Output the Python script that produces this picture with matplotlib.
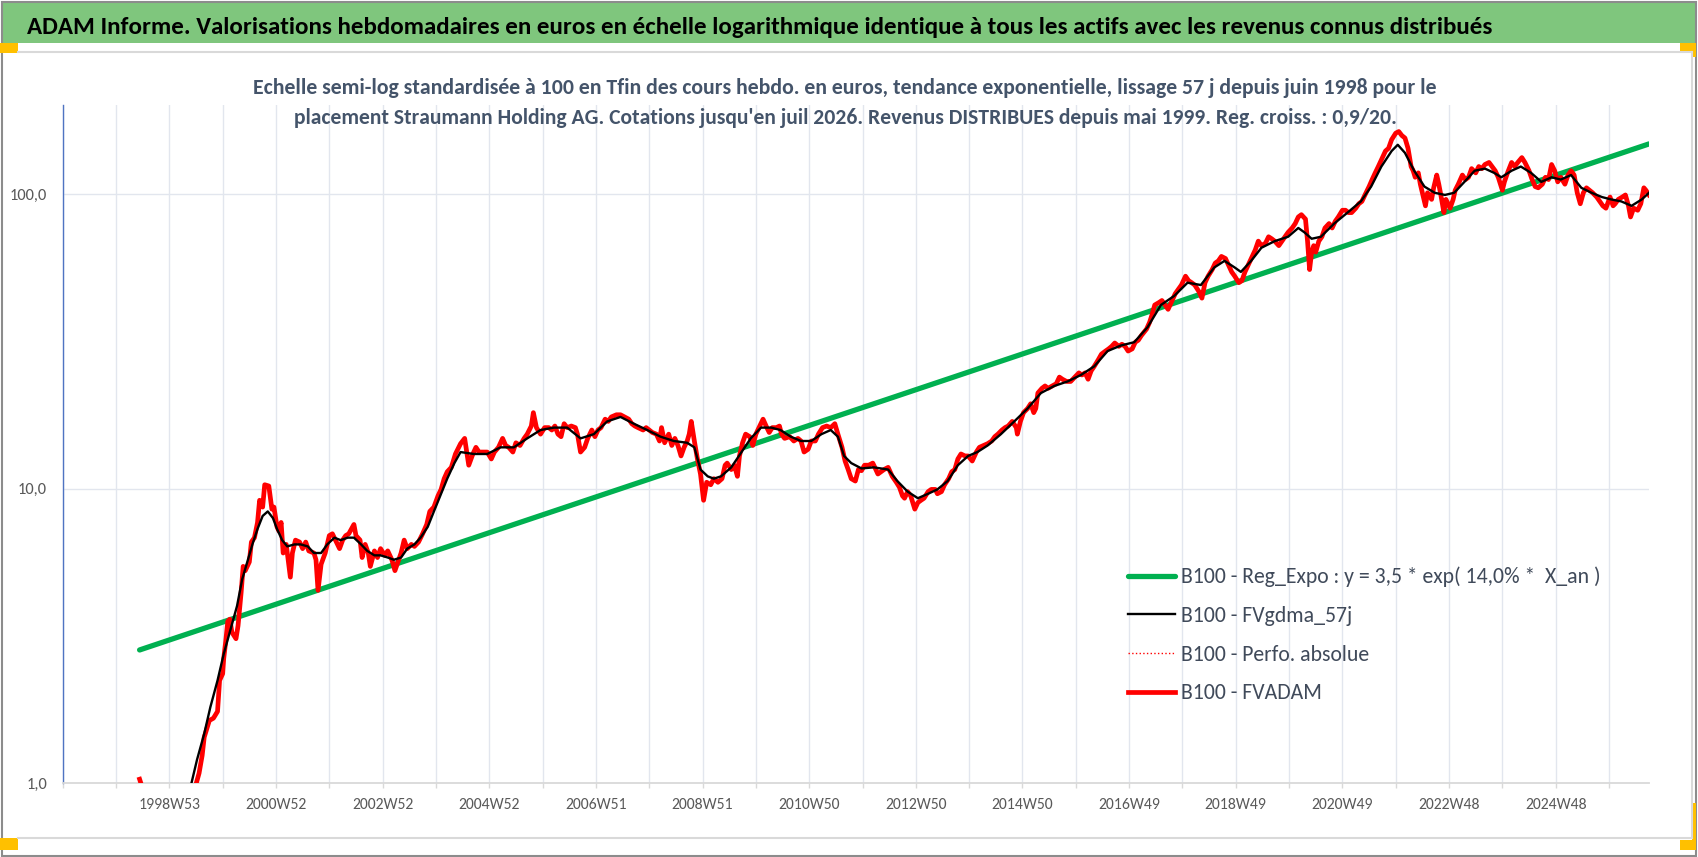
import matplotlib
matplotlib.use("Agg")
import matplotlib.pyplot as plt
from matplotlib.patches import Rectangle
from matplotlib.lines import Line2D
from matplotlib.ticker import NullLocator

# ======= Data (x = week index from the axis origin) =======
green_weeks = [75, 1547]
green_vals = [2.83, 148.0]

fvadam_weeks = [
    75, 85, 100, 115, 125, 130, 133, 136, 138, 143, 147, 151, 153, 156, 157, 159, 161, 163, 165, 169,
    171, 174, 176, 178, 182, 184, 187, 190, 192, 195, 197, 201, 204, 206, 209, 211, 213, 215, 218, 222,
    224, 227, 231, 234, 237, 240, 245, 247, 249, 252, 256, 260, 263, 266, 270, 273, 276, 279, 284, 286,
    290, 292, 295, 298, 300, 304, 307, 310, 314, 317, 321, 324, 327, 330, 333, 336, 340, 343, 347, 351,
    355, 358, 362, 366, 369, 372, 375, 379, 383, 388, 392, 394, 396, 400, 403, 406, 409, 414, 418, 421,
    425, 429, 432, 435, 439, 442, 446, 450, 453, 457, 459, 462, 466, 470, 474, 477, 480, 483, 486, 489,
    492, 496, 500, 502, 505, 509, 512, 516, 519, 522, 525, 529, 532, 535, 540, 544, 548, 552, 555, 558,
    561, 566, 569, 572, 575, 579, 582, 584, 587, 591, 594, 597, 600, 603, 606, 609, 611, 613, 616, 619,
    622, 625, 628, 632, 635, 639, 643, 646, 648, 652, 655, 658, 660, 663, 666, 670, 673, 676, 679, 683,
    686, 689, 692, 696, 699, 701, 704, 709, 713, 717, 720, 723, 727, 730, 734, 737, 741, 745, 749, 753,
    756, 760, 763, 766, 769, 773, 776, 779, 782, 786, 790, 792, 795, 798, 801, 805, 807, 809, 813, 816,
    819, 821, 824, 827, 829, 831, 834, 837, 840, 844, 847, 851, 853, 857, 860, 864, 867, 870, 873, 876,
    880, 883, 887, 891, 894, 898, 902, 906, 909, 912, 916, 919, 922, 926, 930, 931, 934, 937, 941, 944,
    947, 949, 951, 955, 958, 961, 965, 969, 972, 975, 979, 983, 987, 991, 994, 997, 1000, 1003, 1006, 1010,
    1013, 1017, 1020, 1023, 1026, 1030, 1033, 1036, 1039, 1043, 1046, 1049, 1052, 1057, 1060, 1062, 1065, 1069, 1072, 1075,
    1078, 1082, 1085, 1088, 1091, 1095, 1098, 1101, 1104, 1108, 1111, 1114, 1117, 1121, 1124, 1127, 1130, 1134, 1137, 1140,
    1143, 1147, 1150, 1153, 1156, 1160, 1163, 1166, 1169, 1173, 1176, 1179, 1182, 1186, 1189, 1192, 1195, 1199, 1202, 1205,
    1208, 1212, 1214, 1216, 1218, 1220, 1222, 1225, 1228, 1231, 1235, 1238, 1241, 1244, 1248, 1251, 1254, 1257, 1261, 1264,
    1267, 1270, 1274, 1277, 1280, 1283, 1287, 1290, 1293, 1296, 1300, 1303, 1306, 1309, 1312, 1315, 1317, 1319, 1322, 1324,
    1327, 1329, 1331, 1335, 1337, 1340, 1342, 1344, 1347, 1349, 1353, 1356, 1358, 1361, 1365, 1368, 1371, 1374, 1378, 1381,
    1384, 1387, 1391, 1394, 1397, 1400, 1404, 1406, 1409, 1413, 1416, 1419, 1423, 1426, 1430, 1433, 1436, 1439, 1443, 1446,
    1449, 1452, 1455, 1458, 1461, 1465, 1468, 1471, 1474, 1477, 1480, 1483, 1486, 1489, 1492, 1496, 1499, 1502, 1505, 1509,
    1512, 1514, 1517, 1521, 1524, 1527, 1529, 1532, 1536, 1539, 1542, 1544, 1547,
]
fvadam_vals = [
    1.03, 0.80, 0.70, 0.75, 0.90, 0.99, 1.08, 1.24, 1.43, 1.63, 1.66, 1.75, 2.23, 2.35, 2.64, 3.03, 3.54, 3.60, 3.25, 3.09,
    3.42, 4.43, 5.44, 5.26, 5.63, 6.58, 6.81, 7.67, 9.12, 8.65, 10.3, 10.2, 8.51, 8.65, 7.41, 7.16, 7.67, 6.04, 6.46, 5.00,
    6.04, 6.68, 6.58, 6.25, 6.58, 6.14, 6.04, 5.73, 4.51, 5.53, 6.04, 6.92, 7.02, 6.68, 6.25, 6.68, 6.92, 7.02, 7.55, 6.92,
    6.68, 5.83, 6.46, 6.04, 5.44, 6.14, 5.83, 6.25, 5.93, 6.14, 5.73, 5.26, 5.63, 6.04, 6.68, 6.25, 6.46, 6.36, 6.58, 7.02,
    7.55, 8.36, 8.65, 9.44, 9.93, 10.8, 11.4, 11.8, 13.1, 14.2, 14.8, 13.3, 12.0, 13.1, 13.8, 13.3, 13.3, 13.3, 12.6, 13.3,
    13.8, 14.8, 14.0, 13.8, 13.3, 14.3, 14.0, 14.8, 15.3, 16.3, 18.1, 16.1, 15.3, 16.1, 16.1, 15.8, 16.3, 15.3, 15.0, 16.6,
    16.1, 16.3, 16.1, 15.3, 13.3, 13.8, 14.8, 15.8, 15.0, 15.8, 16.1, 17.2, 16.9, 17.5, 17.8, 17.8, 17.5, 17.2, 16.6, 16.3,
    16.1, 15.8, 16.1, 15.8, 15.5, 15.3, 14.5, 16.1, 14.3, 15.3, 14.0, 14.8, 14.0, 12.9, 13.8, 14.5, 15.3, 16.9, 14.5, 12.6,
    11.2, 9.12, 10.5, 10.3, 10.8, 10.5, 10.8, 12.0, 12.2, 11.6, 12.0, 11.0, 12.9, 14.3, 15.3, 15.0, 14.0, 15.3, 16.1, 17.2,
    16.3, 15.5, 16.1, 16.1, 16.3, 15.3, 14.8, 15.0, 14.5, 14.8, 14.5, 13.3, 13.6, 14.5, 14.5, 15.3, 16.1, 16.3, 16.1, 16.6,
    15.3, 13.8, 12.4, 11.6, 10.8, 10.6, 11.6, 11.5, 12.0, 12.0, 12.2, 11.8, 11.2, 11.4, 11.6, 11.8, 11.4, 11.0, 10.5, 10.1,
    9.44, 9.27, 9.76, 9.44, 8.96, 8.51, 8.96, 9.12, 9.27, 9.76, 9.93, 9.93, 9.60, 9.76, 10.3, 10.8, 11.4, 11.6, 12.6, 13.1,
    12.9, 12.9, 12.4, 13.3, 13.8, 14.0, 14.2, 14.5, 15.0, 15.3, 15.8, 16.1, 16.3, 16.9, 16.1, 15.3, 16.9, 18.1, 18.7, 19.4,
    18.1, 18.7, 21.1, 21.9, 22.3, 21.9, 22.3, 22.7, 23.9, 23.5, 23.1, 23.1, 23.9, 24.7, 24.3, 24.7, 23.5, 25.1, 26.0, 27.4,
    28.6, 29.3, 29.8, 30.4, 31.2, 30.4, 30.9, 30.4, 29.3, 29.8, 31.4, 31.9, 33.1, 34.8, 36.7, 38.6, 42.0, 42.8, 43.5, 42.0,
    40.6, 43.5, 45.9, 47.5, 49.1, 52.6, 50.8, 50.0, 49.1, 46.7, 44.3, 50.0, 52.6, 55.4, 58.3, 59.3, 61.4, 60.4, 57.3, 54.4,
    52.6, 50.0, 50.8, 54.4, 57.3, 61.4, 64.6, 69.2, 66.8, 68.1, 71.6, 70.5, 69.2, 66.8, 69.2, 71.6, 74.1, 76.7, 79.4, 83.6,
    85.1, 82.2, 69.2, 55.4, 63.5, 66.8, 63.5, 69.2, 71.6, 76.7, 79.4, 76.7, 80.8, 83.6, 88.1, 88.1, 86.5, 86.5, 89.5, 92.7,
    94.4, 99.3, 106, 112, 118, 124, 133, 140, 143, 153, 161, 163, 158, 155, 143, 124, 120, 114, 118, 108,
    97.7, 91.2, 101, 95.9, 105, 116, 108, 99.3, 86.5, 95.9, 89.5, 95.9, 103, 108, 116, 112, 114, 122, 118, 124,
    122, 126, 128, 124, 120, 114, 103, 110, 118, 128, 124, 128, 133, 128, 120, 112, 106, 105, 108, 114,
    112, 126, 120, 110, 114, 108, 116, 120, 116, 101, 92.7, 101, 105, 103, 101, 97.7, 94.4, 91.2, 89.5, 97.7,
    91.2, 92.7, 95.9, 97.7, 99.3, 91.2, 83.6, 89.5, 88.1, 92.7, 105, 103, 99.3,
]
# the absolute performance coincides with FVADAM (revenues distributed)
perfo_vals = list(fvadam_vals)

gdma_weeks = [
    75, 100, 115, 125, 131, 138, 144, 151, 157, 164, 170, 175, 180, 185, 190, 195, 200, 205, 209, 214,
    219, 226, 232, 239, 245, 252, 258, 265, 271, 278, 284, 291, 297, 304, 310, 317, 323, 330, 336, 343,
    349, 356, 362, 369, 375, 382, 388, 401, 414, 427, 440, 453, 466, 479, 492, 505, 518, 531, 544, 557,
    570, 583, 596, 609, 616, 622, 629, 635, 642, 652, 662, 671, 681, 691, 700, 710, 720, 730, 740, 749,
    756, 762, 769, 779, 791, 805, 814, 824, 834, 844, 853, 863, 873, 883, 892, 902, 915, 928, 941, 954,
    967, 980, 993, 1006, 1019, 1032, 1045, 1058, 1071, 1084, 1097, 1110, 1123, 1133, 1143, 1149, 1159, 1169, 1182, 1195,
    1205, 1211, 1218, 1227, 1240, 1253, 1266, 1276, 1286, 1296, 1302, 1309, 1318, 1328, 1338, 1348, 1357, 1367, 1377, 1387,
    1396, 1403, 1413, 1422, 1432, 1442, 1452, 1461, 1471, 1481, 1491, 1501, 1510, 1520, 1530, 1540, 1547,
]
gdma_vals = [
    0.90, 0.75, 0.80, 0.98, 1.20, 1.47, 1.81, 2.23, 2.74, 3.36, 3.99, 4.91, 5.63, 6.46, 7.29, 8.07, 8.36, 7.94, 7.29, 6.68,
    6.36, 6.46, 6.46, 6.36, 6.04, 6.04, 6.46, 6.81, 6.68, 6.81, 6.81, 6.46, 6.14, 5.93, 5.93, 5.83, 5.73, 5.83, 6.25, 6.46,
    6.81, 7.41, 8.36, 9.60, 10.8, 12.2, 13.3, 13.1, 13.1, 13.8, 13.8, 14.8, 15.8, 16.1, 16.1, 14.8, 15.3, 16.9, 17.5, 16.6,
    15.8, 15.0, 14.5, 14.3, 13.8, 11.6, 11.0, 10.8, 11.0, 11.8, 13.3, 14.8, 16.1, 16.1, 15.8, 15.0, 14.5, 14.5, 15.3, 15.8,
    15.0, 12.9, 12.2, 11.7, 11.8, 11.6, 10.6, 9.76, 9.27, 9.60, 9.93, 10.6, 12.0, 12.9, 13.3, 14.0, 15.3, 16.9, 18.7, 21.1,
    22.3, 23.1, 24.3, 26.0, 29.3, 30.6, 31.4, 35.3, 42.0, 45.1, 50.0, 49.1, 56.3, 59.3, 56.3, 54.4, 59.3, 65.7, 69.2, 71.6,
    76.7, 74.1, 70.5, 71.6, 79.4, 86.5, 94.4, 106, 124, 140, 147, 138, 120, 106, 101, 99.3, 101, 110, 120, 122,
    118, 114, 120, 124, 118, 110, 114, 112, 116, 105, 101, 97.7, 95.9, 94.4, 91.2, 95.9, 101,
]

week_labels = ["1998W53", "2000W52", "2002W52", "2004W52", "2006W51", "2008W51", "2010W50",
               "2012W50", "2014W50", "2016W49", "2018W49", "2020W49", "2022W48", "2024W48"]
y_ticks = [1, 10, 100]
y_tick_labels = ["1,0", "10,0", "100,0"]

TITLE = ("ADAM Informe. Valorisations hebdomadaires en euros en échelle logarithmique "
         "identique à tous les actifs avec les revenus connus distribués")
SUB1 = ("Echelle semi-log standardisée à 100 en Tfin des cours hebdo. en euros, tendance "
        "exponentielle, lissage 57 j depuis juin 1998 pour le")
SUB2 = ("placement Straumann Holding AG. Cotations jusqu'en juil 2026. Revenus DISTRIBUES "
        "depuis mai 1999. Reg. croiss. : 0,9/20.")
LEG = ["B100 - Reg_Expo : y = 3,5 * exp( 14,0% *  X_an )", "B100 - FVgdma_57j",
       "B100 - Perfo. absolue", "B100 - FVADAM"]

# ======= Figure in pixel units =======
W, H = 1698, 857
plt.rcParams['font.family'] = ['Carlito', 'Lato', 'DejaVu Sans']
fig = plt.figure(figsize=(W / 100, H / 100), dpi=100)
renderer = fig.canvas.get_renderer()


def fx(x):
    return x / W


def fy(y):
    return 1 - y / H


def pts_for(text, width_px, **kw):
    # font size (pt) that makes text span width_px
    t = fig.text(0, 0, text, fontsize=20, **kw)
    w = t.get_window_extent(renderer).width
    t.remove()
    return 20 * width_px / w


# frame, title bar, handles
fig.add_artist(Rectangle((fx(3), fy(43)), (1695 - 3) / W, 40 / H, transform=fig.transFigure,
                         facecolor='#7fc67d', edgecolor='none', zorder=0))
fig.add_artist(Rectangle((0.001, 0.001), 0.998, 0.997, transform=fig.transFigure,
                         fill=False, edgecolor='#8c8c8c', lw=1.5))
for xs, ys in [([18, 1692], [52, 52]), ([18, 1692], [838, 838]), ([1692, 1692], [52, 838])]:
    fig.add_artist(Line2D([fx(v) for v in xs], [fy(v) for v in ys], transform=fig.transFigure,
                          color='#d9d9d9', lw=1.5))
for x0, y0, w, h in [(0, 43, 18, 10), (1680, 43, 16, 10), (1692, 43, 4, 14),
                     (0, 838, 18, 12), (1680, 840, 16, 10), (1692, 803, 4, 47)]:
    fig.add_artist(Rectangle((fx(x0), fy(y0 + h)), w / W, h / H, transform=fig.transFigure,
                             facecolor='#ffc000', edgecolor='none'))

fig.text(fx(27), fy(34), TITLE, fontsize=pts_for(TITLE, 1468, weight='bold'),
         weight='bold', color='black', ha='left', va='baseline')
fig.text(fx(845), fy(94), SUB1, fontsize=pts_for(SUB1, 1187, weight='bold'),
         weight='bold', color='#44546a', ha='center', va='baseline')
fig.text(fx(845), fy(124), SUB2, fontsize=pts_for(SUB2, 1108, weight='bold'),
         weight='bold', color='#44546a', ha='center', va='baseline')

# ======= Plot =======
ax = fig.add_axes([fx(62.7), fy(783), (1649 - 62.7) / W, (783 - 105.4) / H])
ax.set_facecolor('none')
g, = ax.plot(green_weeks, green_vals, color='#00b050', lw=3.8, solid_capstyle='round', zorder=2)
p, = ax.plot(fvadam_weeks, perfo_vals, color='red', lw=1.0, ls=':', zorder=3)
r, = ax.plot(fvadam_weeks, fvadam_vals, color='#ff0000', lw=3.4, zorder=4)
k, = ax.plot(gdma_weeks, gdma_vals, color='black', lw=1.7, zorder=5)

ax.set_yscale('log')
ax.set_ylim(1, 200)
ax.set_xlim(0, 1547)
ax.yaxis.set_minor_locator(NullLocator())
ax.set_yticks(y_ticks)
ax.set_yticklabels(y_tick_labels)

xt = list(range(0, 1547, 52))
xl = []
for i in range(len(xt)):
    if i > 0 and i % 2 == 0 and i // 2 - 1 < len(week_labels):
        xl.append(week_labels[i // 2 - 1])
    else:
        xl.append('')
ax.set_xticks(xt)
ax.set_xticklabels(xl)

xfs = pts_for("2020W49", 62)
yfs = pts_for("1,0", 21)
ax.tick_params(axis='x', length=3.6, width=1, color='#d9d9d9', pad=7, labelsize=xfs,
               labelcolor='#595959')
ax.tick_params(axis='y', length=0, pad=11.3, labelsize=yfs, labelcolor='#595959')
ax.grid(True, color='#e2e6ee', lw=1.0, zorder=0)
ax.set_axisbelow(True)
for s in ['top', 'right']:
    ax.spines[s].set_visible(False)
ax.spines['bottom'].set_color('#d9d9d9')
ax.spines['bottom'].set_linewidth(1.3)
ax.spines['left'].set_color('#4f74c2')
ax.spines['left'].set_linewidth(1.0)

# ======= Legend =======
lfs = pts_for(LEG[0], 421)
lfs_px = lfs * 100 / 72
t = fig.text(0, 0, "B100", fontsize=lfs)
th = t.get_window_extent(renderer).height
t.remove()
leg = ax.legend([g, k, p, r], LEG, loc='center left', bbox_to_anchor=(fx(1128), fy(635)),
                bbox_transform=fig.transFigure, frameon=False, fontsize=lfs,
                handlelength=47 / lfs_px, handletextpad=6 / lfs_px,
                labelspacing=(38.7 - th) / lfs_px, borderpad=0, borderaxespad=0,
                labelcolor='#404a5a')

fig.savefig("out.png", dpi=100)
plt.close(fig)
